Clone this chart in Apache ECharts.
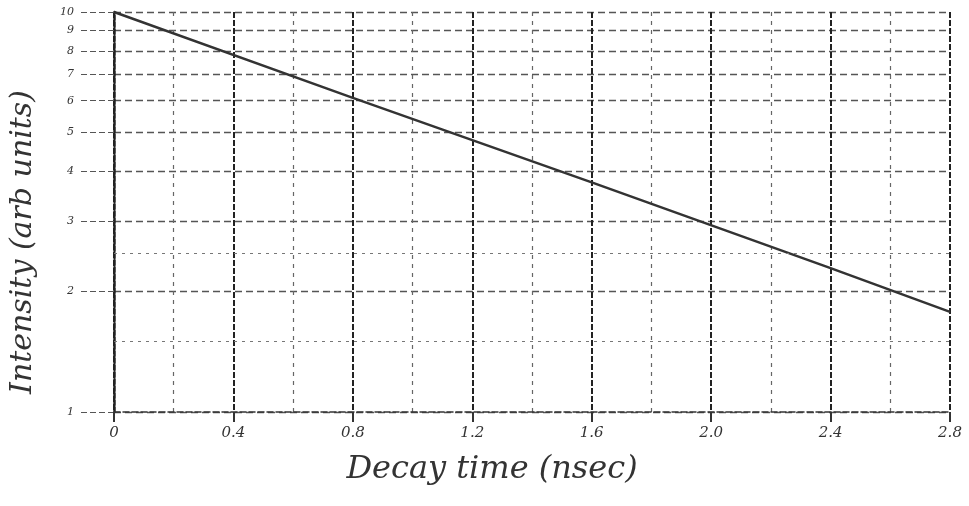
<!DOCTYPE html>
<html>
<head>
<meta charset="utf-8">
<script src="https://cdn.jsdelivr.net/npm/echarts@6/dist/echarts.min.js"></script>
<style>
  html, body { margin: 0; padding: 0; background: #fff; }
  #chart { width: 969px; height: 506px; }
</style>
</head>
<body>
<div id="chart"></div>
<script>
// values
var decayTime = [0, 0.8, 1.6, 2.4, 2.8];
var intensity = [10, 6.1, 3.75, 2.29, 1.78];
var yTickValues = [1, 2, 3, 4, 5, 6, 7, 8, 9, 10];
var yMinorValues = [1.5, 2.5];

var hand = 'DejaVu Serif';
var ink = '#333';

var chart = echarts.init(document.getElementById('chart'));

var option = {
    backgroundColor: '#fff',
    animation: false,
    grid: { left: 113, right: 19, top: 12, bottom: 94 },
    xAxis: {
        type: 'value',
        min: 0,
        max: 2.8,
        interval: 0.4,
        name: 'Decay time (nsec)',
        nameLocation: 'middle',
        nameGap: 42,
        nameTextStyle: {
            fontFamily: hand, fontStyle: 'italic', fontSize: 32, color: ink,
            padding: [0, 80, 0, 0] // pull the title a bit to the left like the original
        },
        axisLine: { lineStyle: { color: ink, width: 1.5, type: 'dashed' } },
        axisTick: { length: 10, inside: false, lineStyle: { color: ink, width: 2 } },
        axisLabel: {
            margin: 14,
            fontFamily: hand, fontStyle: 'italic', fontSize: 15, color: ink,
            formatter: function (v) { return v === 0 ? '0' : v.toFixed(1); }
        },
        splitLine: { show: true, lineStyle: { color: '#222', width: 2, type: [6, 2] } },
        minorTick: { show: false, splitNumber: 2 },
        minorSplitLine: { show: true, lineStyle: { color: '#666', width: 1.2, type: [4, 5] } }
    },
    yAxis: {
        type: 'log',
        logBase: 10,
        min: 1,
        max: 10,
        name: 'Intensity (arb units)',
        nameLocation: 'middle',
        nameGap: 76,
        nameTextStyle: {
            fontFamily: hand, fontStyle: 'italic', fontSize: 30, color: ink,
            padding: [0, 60, 0, 0]
        },
        axisLine: { lineStyle: { color: '#222', width: 2.5, type: [5, 2] } },
        axisTick: {
            customValues: yTickValues,
            length: 33,
            lineStyle: { color: '#555', width: 1.2, type: [6, 3] }
        },
        axisLabel: {
            customValues: yTickValues,
            margin: 40,
            fontFamily: hand, fontStyle: 'italic', fontSize: 11, color: ink
        },
        splitLine: { show: true, lineStyle: { color: '#555', width: 1.3, type: [7, 4] } }
    },
    series: [{
        type: 'line',
        data: decayTime.map(function (t, i) { return [t, intensity[i]]; }),
        symbol: 'none',
        lineStyle: { color: '#333', width: 2.5 },
        markLine: {
            silent: true,
            symbol: 'none',
            label: { show: false },
            lineStyle: { color: '#777', width: 1, type: [3, 5] },
            data: yMinorValues.map(function (v) { return { yAxis: v }; })
        }
    }]
};

chart.setOption(option);
</script>
</body>
</html>
